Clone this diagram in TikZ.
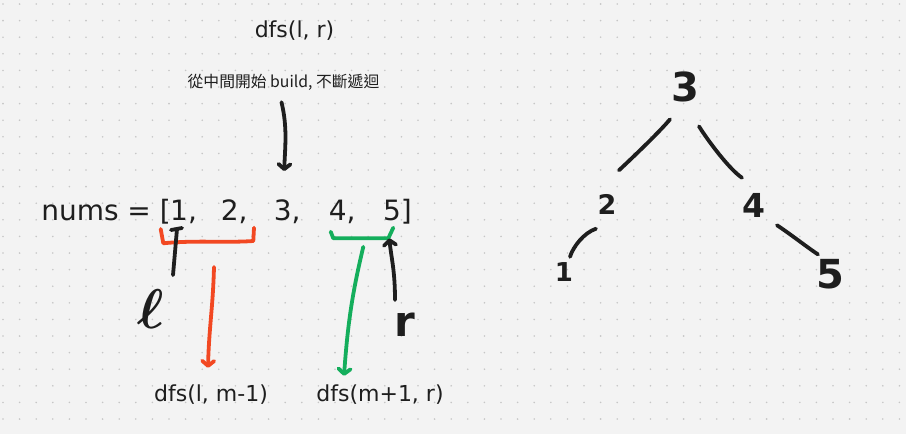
\documentclass[tikz,border=0pt]{standalone}
\usepackage{fontspec}
\setmainfont{DejaVu Sans}
\newfontfamily\cjkfont{Noto Sans CJK TC}
\usepackage{xcolor}
\usepackage{tikz}
\usetikzlibrary{positioning, calc, arrows.meta}
\definecolor{inkblack}{RGB}{30, 30, 30}
\definecolor{inkred}{RGB}{242, 72, 34}
\definecolor{inkgreen}{RGB}{20, 174, 92}
\definecolor{paper}{RGB}{243, 243, 243}
\definecolor{griddot}{RGB}{198, 198, 198}

\begin{document}
\begin{tikzpicture}[x=1pt, y=-1pt,
    inkline/.style={line width=3.8pt, line cap=round, line join=round, draw=inkblack},
    arrowhd/.style={-{Straight Barb[length=5pt, width=12pt, round]}},
    txt/.style={inner sep=0pt, text=inkblack, anchor=base},
    numfont/.style={font=\fontsize{28pt}{32pt}\selectfont},
    lblfont/.style={font=\fontsize{22pt}{26pt}\selectfont},
    hand/.style={inner sep=0pt, text=inkblack}]
            % Paper and dot grid
            \useasboundingbox (0,0) rectangle (906,434);
            \fill[paper] (0,0) rectangle (906,434);
            \foreach \i in {0,...,54}
                \foreach \j in {0,...,25}
                    \fill[griddot] (3+16.6*\i, 4+16.6*\j) circle (0.9pt);
            % Labels
            \node[txt, lblfont] (dfsTop) at (294.5,37.5) {dfs(l, r)};
            \node[txt, font=\cjkfont\fontsize{15.8pt}{18pt}\selectfont] (hint) at (283.5,87) {從中間開始 build, 不斷遞迴};
            % Array
            \node[txt, numfont, anchor=base east] (nums) at (171,220) {nums = [};
            \node[txt, numfont, anchor=base west] (n1) at (170,220) {1,};
            \node[txt, numfont, anchor=base west] (n2) at (220.6,220) {2,};
            \node[txt, numfont, anchor=base west] (n3) at (273.6,220) {3,};
            \node[txt, numfont, anchor=base west] (n4) at (328.6,220) {4,};
            \node[txt, numfont, anchor=base west] (n5) at (382.8,220) {5]};
            \node[txt, lblfont] (dfsL) at (211,401.7) {dfs(l, m-1)};
            \node[txt, lblfont] (dfsR) at (380,401.7) {dfs(m+1, r)};
            % Hand-written pointers
            \node[hand, font=\fontsize{24.88pt}{28pt}\selectfont\boldmath, scale=2.25] (ell) at (151,309) {$\ell$};
            \node[hand, font=\fontsize{42pt}{46pt}\selectfont\bfseries] (rr) at (405,325) {r};
            % Start in the middle
            \draw[inkline, arrowhd] ($(hint.south)+(-2,12)$) .. controls +(6,25) and +(1,-25) .. ($(n3.north)+(-3,-28)$);
            % Left half
            \coordinate (redlow) at (214,242);
            \coordinate (redcorner) at (177,229);
            \draw[inkline, draw=inkred] (160.7,229) -- (163.3,243.3) .. controls (195,240) and (225,243) .. (253.3,241) -- (254,227.7);
            \draw[inkline, draw=inkred, arrowhd] ($(redlow)+(0,25)$) .. controls +(-1,40) and +(1,-40) .. ($(dfsL.north)+(-3,-17)$);
            \draw[inkline] ($(ell.north)+(22,-14)$) -- (redcorner);
            \draw[inkline] ($(redcorner)+(-6,1)$) -- ++(11,-2);
            % Right half
            \coordinate (greenlow) at (363.3,238.3);
            \coordinate (greencorner) at (389.3,238.3);
            \draw[inkline, draw=inkgreen] (330.7,231.7) -- (333.3,238.3) -- (388.3,238.3) -- (393.3,227.7);
            \draw[inkline, draw=inkgreen, arrowhd] ($(greenlow)+(0,8.5)$) .. controls (353,290) and (348,320) .. ($(dfsR.north)+(-36,-9)$);
            \draw[inkline, arrowhd] ($(rr.north)+(-10,-13)$) .. controls +(0,-30) and +(2,20) .. (greencorner);
            % Tree
            \node[hand, font=\fontsize{40pt}{44pt}\selectfont\bfseries] (t3) at (685,87) {3};
            \node[hand, font=\fontsize{27pt}{30pt}\selectfont\bfseries] (t2) at (607,204) {2};
            \node[hand, font=\fontsize{33pt}{37pt}\selectfont\bfseries] (t4) at (754,205) {4};
            \node[hand, font=\fontsize{26pt}{30pt}\selectfont\bfseries] (t1) at (564,272) {1};
            \node[hand, font=\fontsize{40pt}{44pt}\selectfont\bfseries] (t5) at (830,274) {5};
            \draw[inkline] ($(t3.south)+(-15,17)$) .. controls +(-10,12) and +(15,-14) .. ($(t2.north)+(12,-23.5)$);
            \draw[inkline] ($(t3.south)+(14,24)$) .. controls +(10,16) and +(-12,-8) .. ($(t4.north)+(-12,-15)$);
            \draw[inkline] ($(t2.south)+(-11,14.5)$) .. controls +(-12,4) and +(3,-10) .. ($(t1.north)+(6,-5.5)$);
            \draw[inkline] ($(t4.south)+(23,8)$) .. controls +(15,10) and +(-12,-8) .. ($(t5.north)+(-12,-4.5)$);
\end{tikzpicture}
\end{document}
